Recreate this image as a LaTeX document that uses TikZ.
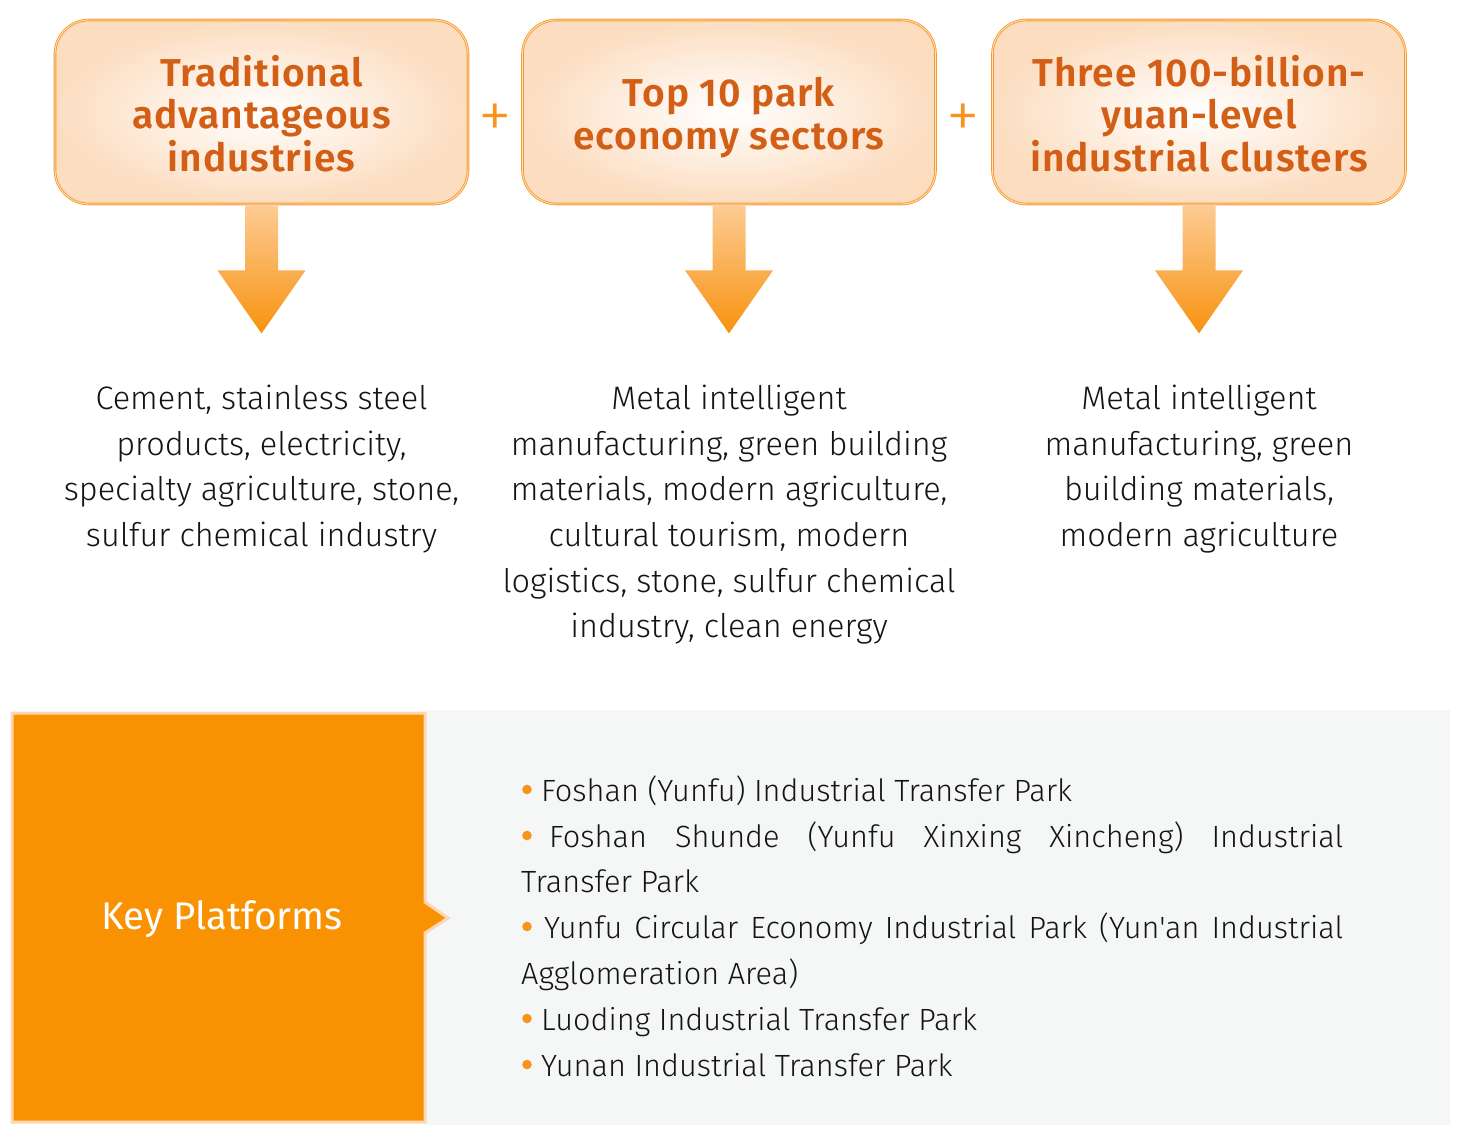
\documentclass[tikz,border=0pt]{standalone}
\usepackage{fontspec}
\setmainfont{Fira Sans}
\IfFontExistsTF{Fira Sans Light}{\newfontfamily\lightff{Fira Sans Light}[Ligatures=TeXOff]}{\newfontfamily\lightff{Fira Sans}[Ligatures=TeXOff]}
\IfFontExistsTF{Fira Sans SemiBold}{\newfontfamily\semiff{Fira Sans SemiBold}[LetterSpace=2.5]}{\def\semiff{\bfseries}}
\usetikzlibrary{calc}
\definecolor{boxline}{HTML}{F79A2E}
\definecolor{boxinner}{HTML}{FDE3CC}
\definecolor{peach}{HTML}{FCDDC0}
\definecolor{titlecol}{HTML}{D35F17}
\definecolor{bodycol}{HTML}{141414}
\definecolor{plusor}{HTML}{F7941D}
\definecolor{arrtop}{HTML}{FDCB93}
\definecolor{arrbot}{HTML}{F7930F}
\definecolor{keyor}{HTML}{F99203}
\definecolor{keyedge}{HTML}{FDD6B3}
\definecolor{panel}{HTML}{F5F7F6}
\newcommand\ttlfont{\semiff\fontsize{38.9}{42.5}\selectfont}
\newcommand\bdyfont{\lightff\fontsize{32.5}{45.7}\selectfont}
\newcommand\lstfont{\lightff\fontsize{30.7}{45.7}\selectfont}
\newcommand\keyfont{\fontsize{38.5}{40}\selectfont}
\newcommand\plsfont{\lightff\fontsize{68}{68}\selectfont}
\tikzset{
  topbox/.style={draw=boxline, double=boxinner, double distance=0.8pt, line width=0.9pt,
    rounded corners=34pt, shading=radial, inner color=white, outer color=peach,
    minimum width=413pt, minimum height=184pt, inner sep=0pt},
  toptitle/.style={align=center, text=titlecol, font=\ttlfont, inner sep=0pt},
  bodyline/.style={anchor=base, inner sep=0pt, text=bodycol, font=\bdyfont},
  listline/.style={anchor=base west, inner sep=0pt, text=bodycol, font=\lstfont},
  bulletdot/.style={fill=plusor},
  plussign/.style={text=plusor, font=\plsfont, inner sep=0pt},
  downarrow/.style={top color=arrtop, bottom color=arrbot, draw=none},
}
\begin{document}
\begin{tikzpicture}[x=1pt,y=-1pt]
\useasboundingbox (0,0) rectangle (1470,1148);
\fill[white] (0,0) rectangle (1470,1148);

% top boxes
\node[topbox] (b1) at (261.5,112) {};
\node[topbox] (b2) at (729,112) {};
\node[topbox] (b3) at (1199,112) {};
\node[toptitle] (t1) at (261.5,113.5) {Traditional\\advantageous\\industries};
\node[toptitle] (t2) at (729,117.5) {Top 10 park\\economy sectors};
\node[toptitle] (t3) at (1199,113.5) {Three 100-billion-\\yuan-level\\industrial clusters};

\node[plussign] (p1) at (495.5,121) {+};
\node[plussign] (p2) at (963.5,121) {+};

% arrows
\foreach \b in {b1,b2,b3}{
  \shade[downarrow] ($(\b.south)+(-16.5,1.5)$) -- ($(\b.south)+(16.5,1.5)$)
    -- ($(\b.south)+(16.5,66)$) -- ($(\b.south)+(44,66)$) -- ($(\b.south)+(0,129)$)
    -- ($(\b.south)+(-44,66)$) -- ($(\b.south)+(-16.5,66)$) -- cycle;
}

% body texts
\foreach \t [count=\i] in {{Cement, stainless steel},{products, electricity,},{specialty agriculture, stone,},{sulfur chemical industry}}
  \node[bodyline] (ta\i) at (261.5,{409.3+45.7*(\i-1)}) {\t};
\foreach \t [count=\i] in {{Metal intelligent},{manufacturing, green building},{materials, modern agriculture,},{cultural tourism, modern},{logistics, stone, sulfur chemical},{industry, clean energy}}
  \node[bodyline] (tb\i) at (729,{409.3+45.7*(\i-1)}) {\t};
\foreach \t [count=\i] in {{Metal intelligent},{manufacturing, green},{building materials,},{modern agriculture}}
  \node[bodyline] (tc\i) at (1199,{409.3+45.7*(\i-1)}) {\t};

% bottom panel
\fill[panel] (425,710) rectangle (1450,1125);
\path[fill=keyor, draw=keyedge, line width=3pt] (12,713) -- (425,713) -- (425,902) -- (448,918)
  -- (425,933) -- (425,1122) -- (12,1122) -- cycle;
\node[text=white, font=\keyfont, inner sep=0pt] (key) at (222,919) {Key Platforms};

\foreach \y in {801,847,938,1030,1076}
  \fill[bulletdot] (527,{\y-11.5}) circle[radius=4.8pt];
\node[listline] (l1) at (541,801) {Foshan (Yunfu) Industrial Transfer Park};
\node[listline] (l2) at (549,847) {\makebox[794pt][s]{Foshan Shunde (Yunfu Xinxing Xincheng) Industrial}};
\node[listline] (l3) at (521,892) {Transfer Park};
\node[listline] (l4) at (544,938) {\makebox[799pt][s]{Yunfu Circular Economy Industrial Park (Yun'an Industrial}};
\node[listline] (l5) at (521,984) {Agglomeration Area)};
\node[listline] (l6) at (541,1030) {Luoding Industrial Transfer Park};
\node[listline] (l7) at (541,1076) {Yunan Industrial Transfer Park};
\end{tikzpicture}
\end{document}
